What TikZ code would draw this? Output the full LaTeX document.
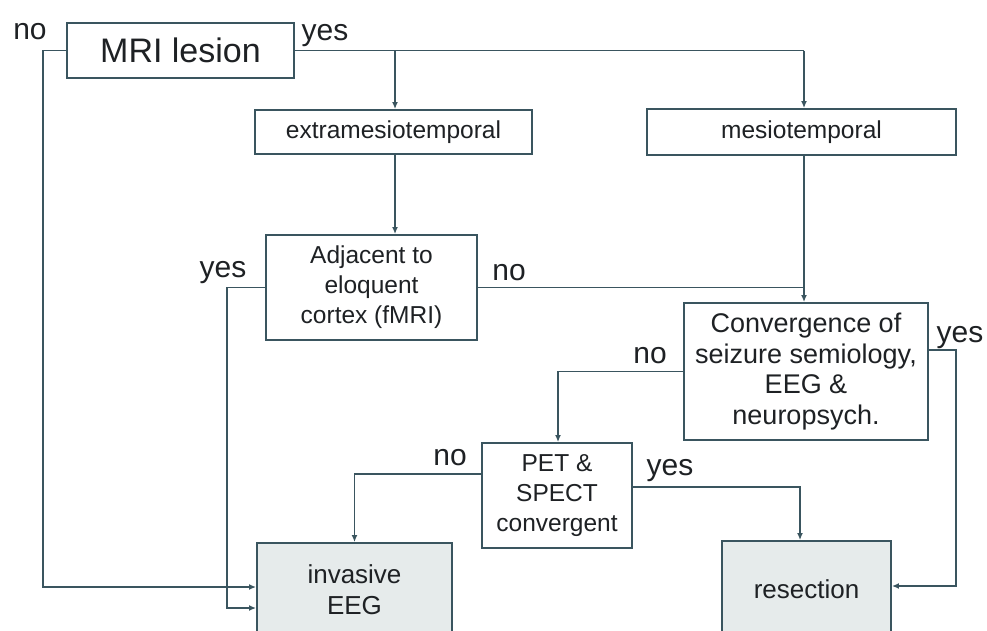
\documentclass[tikz,border=0pt]{standalone}
\usepackage{fontspec}
\setmainfont{Liberation Sans}
\usetikzlibrary{arrows.meta}
\definecolor{ln}{RGB}{58,85,95}
\definecolor{tx}{RGB}{30,33,36}
\definecolor{fillg}{RGB}{230,235,235}
\tikzset{
  box/.style={draw=ln, line width=1.9pt, text=tx, align=center, inner sep=0pt, font=\fontsize{24.5}{30}\selectfont},
  endbox/.style={box, fill=fillg, font=\fontsize{26}{31}\selectfont},
  conn/.style={draw=ln, line width=1.8pt},
  arr/.style={conn, -{Latex[length=7pt,width=6pt]}},
  lbl/.style={text=tx, anchor=base, inner sep=0pt, font=\fontsize{30}{30}\selectfont}
}
\begin{document}
\begin{tikzpicture}[x=1pt,y=-1pt]
\useasboundingbox[fill=white] (0,0) rectangle (987,630);
% boxes
\node[box, minimum width=227pt, minimum height=55pt, font=\fontsize{34}{34}\selectfont] (mri) at (180.5,50.5) {MRI lesion};
\node[box, minimum width=277pt, minimum height=44pt] (extra) at (393.5,132) {extramesiotemporal};
\node[box, minimum width=309pt, minimum height=46pt] (meso) at (801.5,132) {mesiotemporal};
\node[box, minimum width=211pt, minimum height=105pt] (adj) at (371.5,287.5) {Adjacent to\\eloquent\\cortex (fMRI)};
\node[box, minimum width=244pt, minimum height=137pt, font=\fontsize{27}{30.5}\selectfont] (conv) at (806,371.5) {Convergence of\\seizure semiology,\\EEG \&\\neuropsych.};
\node[box, minimum width=150pt, minimum height=105pt] (pet) at (557,495.5) {PET \&\\SPECT\\convergent};
\node[endbox, minimum width=195pt, minimum height=94pt] (inv) at (354.5,590) {invasive\\EEG};
\node[endbox, minimum width=169pt, minimum height=96pt] (res) at (806.5,589) {resection};
% helper coordinates
\coordinate (mcol) at (804,50.5);
\coordinate (noL) at (43,50.5);
\coordinate (yesL) at (227,287.5);
\coordinate (cR) at (956,350);
\coordinate (pL) at (354.5,474);
\coordinate (pR) at (800,487);
% connectors
\draw[conn] (mri.east) -- (mcol);
\draw[arr] (mcol) -- (mcol |- meso.north);
\draw[arr] (mri.east -| 395,0) -- (395,0 |- extra.north);
\draw[arr] (395,0 |- extra.south) -- (395,0 |- adj.north);
\draw[arr] (mcol |- meso.south) -- (mcol |- conv.north);
\draw[conn] (adj.east) -- (mcol |- adj.east);
\draw[arr] (conv.west) -| (558,0 |- pet.north);
\draw[arr] (conv.east |- cR) -- (cR) |- (res.east |- 0,586);
\draw[arr] (pet.west |- pL) -- (pL) -- (pL |- inv.north);
\draw[arr] (pet.east |- pR) -- (pR) -- (pR |- res.north);
\draw[arr] (mri.west) -- (noL) |- (inv.west |- 0,587);
\draw[arr] (adj.west) -- (yesL) |- (inv.west |- 0,608);
% labels
\node[lbl] (l1) at (30,39) {no};
\node[lbl] (l2) at (325,40) {yes};
\node[lbl] (l3) at (223,277) {yes};
\node[lbl] (l4) at (509,280) {no};
\node[lbl] (l5) at (650,363) {no};
\node[lbl] (l6) at (960,342) {yes};
\node[lbl] (l7) at (450,465) {no};
\node[lbl] (l8) at (670,475) {yes};
\end{tikzpicture}
\end{document}
